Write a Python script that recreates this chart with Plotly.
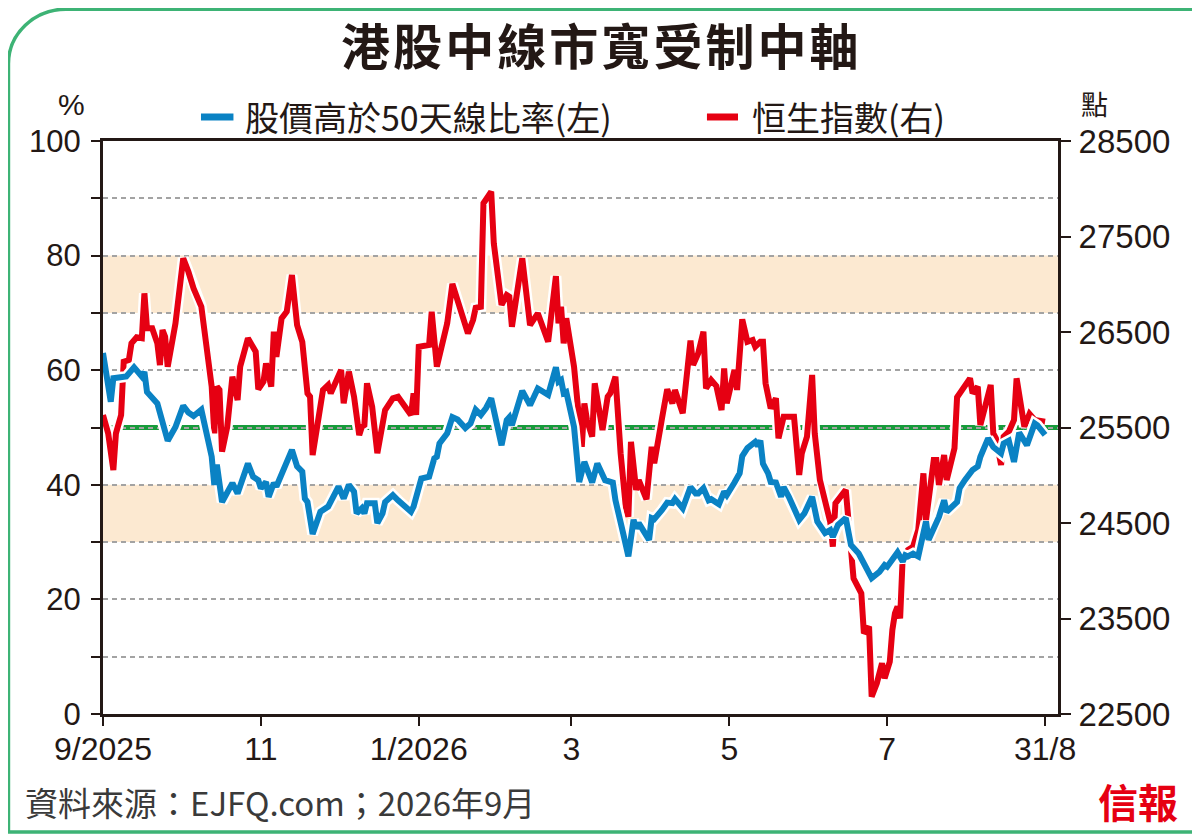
import plotly.graph_objects as go

# ---------------------------------------------------------------------------
# data
# ---------------------------------------------------------------------------
breadth_dates = [
    "2025-09-01", "2025-09-04", "2025-09-05", "2025-09-09", "2025-09-10", "2025-09-13",
    "2025-09-16", "2025-09-17", "2025-09-18", "2025-09-22", "2025-09-26", "2025-09-29",
    "2025-10-01", "2025-10-02", "2025-10-04", "2025-10-06", "2025-10-09", "2025-10-11",
    "2025-10-13", "2025-10-14", "2025-10-15", "2025-10-17", "2025-10-21", "2025-10-23",
    "2025-10-27", "2025-10-29", "2025-10-31", "2025-11-01", "2025-11-03", "2025-11-04",
    "2025-11-06", "2025-11-07", "2025-11-10", "2025-11-11", "2025-11-13", "2025-11-15",
    "2025-11-17", "2025-11-18", "2025-11-19", "2025-11-21", "2025-11-24", "2025-11-27",
    "2025-12-01", "2025-12-03", "2025-12-05", "2025-12-07", "2025-12-08", "2025-12-10",
    "2025-12-11", "2025-12-12", "2025-12-15", "2025-12-16", "2025-12-18", "2025-12-19",
    "2025-12-22", "2025-12-24", "2025-12-29", "2025-12-30", "2026-01-02", "2026-01-05",
    "2026-01-07", "2026-01-08", "2026-01-09", "2026-01-12", "2026-01-14", "2026-01-16",
    "2026-01-19", "2026-01-21", "2026-01-23", "2026-01-25", "2026-01-27", "2026-01-29",
    "2026-01-31", "2026-02-02", "2026-02-04", "2026-02-05", "2026-02-06", "2026-02-10",
    "2026-02-13", "2026-02-16", "2026-02-20", "2026-02-23", "2026-02-24", "2026-02-25",
    "2026-02-26", "2026-02-27", "2026-03-02", "2026-03-04", "2026-03-06", "2026-03-09",
    "2026-03-11", "2026-03-13", "2026-03-14", "2026-03-17", "2026-03-18", "2026-03-21",
    "2026-03-23", "2026-03-25", "2026-03-26", "2026-03-27", "2026-03-31", "2026-04-01",
    "2026-04-02", "2026-04-05", "2026-04-07", "2026-04-09", "2026-04-10", "2026-04-13",
    "2026-04-14", "2026-04-16", "2026-04-18", "2026-04-19", "2026-04-21", "2026-04-23",
    "2026-04-24", "2026-04-27", "2026-04-29", "2026-04-30", "2026-05-03", "2026-05-05",
    "2026-05-06", "2026-05-08", "2026-05-11", "2026-05-12", "2026-05-13", "2026-05-14",
    "2026-05-16", "2026-05-17", "2026-05-19", "2026-05-21", "2026-05-22", "2026-05-24",
    "2026-05-28", "2026-05-30", "2026-06-02", "2026-06-04", "2026-06-07", "2026-06-09",
    "2026-06-10", "2026-06-12", "2026-06-15", "2026-06-17", "2026-06-20", "2026-06-22",
    "2026-06-25", "2026-06-28", "2026-06-30", "2026-07-01", "2026-07-03", "2026-07-05",
    "2026-07-07", "2026-07-08", "2026-07-09", "2026-07-11", "2026-07-13", "2026-07-16",
    "2026-07-17", "2026-07-21", "2026-07-23", "2026-07-24", "2026-07-28", "2026-07-29",
    "2026-07-31", "2026-08-03", "2026-08-05", "2026-08-06", "2026-08-09", "2026-08-11",
    "2026-08-14", "2026-08-15", "2026-08-17", "2026-08-19", "2026-08-21", "2026-08-24",
    "2026-08-27", "2026-08-28", "2026-08-31",
]
breadth_pct = [
    63.0, 54.5, 58.6, 59.0, 58.9, 60.5,
    58.9, 59.7, 56.2, 54.2, 47.7, 50.1,
    52.8, 53.8, 52.6, 52.0, 53.1, 49.0,
    44.9, 40.0, 43.5, 37.0, 40.3, 38.5,
    43.7, 41.4, 40.8, 39.4, 40.5, 37.9,
    40.3, 39.7, 43.2, 43.7, 46.1, 43.2,
    42.3, 37.6, 37.0, 31.4, 35.3, 36.2,
    39.7, 37.6, 40.0, 38.8, 35.0, 35.9,
    35.0, 36.8, 36.8, 33.3, 35.0, 37.0,
    38.2, 37.3, 35.3, 36.2, 41.1, 41.4,
    44.6, 44.9, 47.2, 49.0, 51.8, 51.4,
    49.9, 50.7, 53.1, 52.2, 53.4, 55.1,
    50.7, 46.9, 51.3, 51.8, 50.4, 56.4,
    53.9, 56.8, 55.7, 60.5, 58.0, 58.3,
    56.0, 56.2, 50.1, 40.5, 44.0, 40.4,
    43.7, 41.7, 40.8, 40.4, 37.3, 31.5,
    27.5, 33.9, 32.4, 33.3, 30.4, 34.2,
    34.0, 35.6, 36.9, 36.8, 37.5, 35.9,
    37.3, 39.6, 38.5, 38.5, 39.4, 37.3,
    37.5, 36.6, 38.8, 38.2, 40.4, 42.0,
    45.0, 46.4, 47.5, 46.8, 47.7, 43.7,
    42.0, 40.5, 40.4, 37.9, 39.6, 37.9,
    33.9, 35.0, 37.9, 33.6, 31.6, 32.1,
    30.9, 33.0, 34.2, 29.5, 28.0, 26.3,
    23.7, 24.8, 26.0, 25.7, 27.2, 28.2,
    26.6, 27.7, 27.5, 28.0, 27.5, 33.6,
    30.4, 34.4, 37.3, 35.3, 37.0, 39.4,
    40.8, 42.6, 43.2, 44.9, 48.1, 46.6,
    45.5, 47.2, 47.7, 44.0, 49.1, 46.9,
    50.7, 50.4, 48.7,
]

hsi_dates = [
    "2025-09-01", "2025-09-03", "2025-09-05", "2025-09-06", "2025-09-08", "2025-09-09",
    "2025-09-11", "2025-09-12", "2025-09-14", "2025-09-16", "2025-09-17", "2025-09-18",
    "2025-09-20", "2025-09-22", "2025-09-23", "2025-09-24", "2025-09-25", "2025-09-26",
    "2025-09-29", "2025-10-02", "2025-10-04", "2025-10-06", "2025-10-09", "2025-10-10",
    "2025-10-11", "2025-10-13", "2025-10-14", "2025-10-15", "2025-10-16", "2025-10-17",
    "2025-10-19", "2025-10-21", "2025-10-23", "2025-10-24", "2025-10-27", "2025-10-29",
    "2025-10-30", "2025-10-31", "2025-11-02", "2025-11-03", "2025-11-05", "2025-11-06",
    "2025-11-07", "2025-11-09", "2025-11-11", "2025-11-13", "2025-11-15", "2025-11-17",
    "2025-11-19", "2025-11-20", "2025-11-21", "2025-11-25", "2025-11-27", "2025-11-28",
    "2025-12-02", "2025-12-03", "2025-12-05", "2025-12-07", "2025-12-09", "2025-12-10",
    "2025-12-11", "2025-12-12", "2025-12-14", "2025-12-16", "2025-12-18", "2025-12-19",
    "2025-12-22", "2025-12-24", "2025-12-29", "2025-12-30", "2025-12-31", "2026-01-01",
    "2026-01-05", "2026-01-06", "2026-01-08", "2026-01-12", "2026-01-14", "2026-01-17",
    "2026-01-20", "2026-01-22", "2026-01-23", "2026-01-25", "2026-01-26", "2026-01-29",
    "2026-01-30", "2026-02-02", "2026-02-04", "2026-02-05", "2026-02-06", "2026-02-10",
    "2026-02-13", "2026-02-16", "2026-02-20", "2026-02-23", "2026-02-24", "2026-02-25",
    "2026-02-26", "2026-02-27", "2026-03-02", "2026-03-05", "2026-03-06", "2026-03-07",
    "2026-03-09", "2026-03-10", "2026-03-13", "2026-03-15", "2026-03-16", "2026-03-18",
    "2026-03-20", "2026-03-22", "2026-03-23", "2026-03-24", "2026-03-26", "2026-03-27",
    "2026-03-30", "2026-04-01", "2026-04-02", "2026-04-05", "2026-04-07", "2026-04-09",
    "2026-04-10", "2026-04-13", "2026-04-14", "2026-04-16", "2026-04-17", "2026-04-19",
    "2026-04-21", "2026-04-22", "2026-04-24", "2026-04-26", "2026-04-28", "2026-04-29",
    "2026-04-30", "2026-05-03", "2026-05-04", "2026-05-06", "2026-05-08", "2026-05-10",
    "2026-05-11", "2026-05-13", "2026-05-14", "2026-05-15", "2026-05-17", "2026-05-19",
    "2026-05-20", "2026-05-22", "2026-05-26", "2026-05-28", "2026-05-29", "2026-05-31",
    "2026-06-02", "2026-06-03", "2026-06-05", "2026-06-07", "2026-06-09", "2026-06-10",
    "2026-06-11", "2026-06-15", "2026-06-17", "2026-06-18", "2026-06-21", "2026-06-22",
    "2026-06-24", "2026-06-25", "2026-06-27", "2026-06-29", "2026-06-30", "2026-07-02",
    "2026-07-03", "2026-07-04", "2026-07-05", "2026-07-06", "2026-07-07", "2026-07-09",
    "2026-07-11", "2026-07-13", "2026-07-15", "2026-07-16", "2026-07-19", "2026-07-20",
    "2026-07-21", "2026-07-23", "2026-07-24", "2026-07-27", "2026-07-28", "2026-07-30",
    "2026-08-02", "2026-08-03", "2026-08-05", "2026-08-06", "2026-08-08", "2026-08-10",
    "2026-08-11", "2026-08-12", "2026-08-14", "2026-08-15", "2026-08-17", "2026-08-19",
    "2026-08-20", "2026-08-23", "2026-08-25", "2026-08-27", "2026-08-31",
]
hsi_points = [
    25631, 25439, 25055, 25439, 25631, 26189,
    26207, 26381, 26444, 26434, 26905, 26539,
    26539, 26381, 26154, 26521, 26451, 26137,
    26591, 27272, 27131, 26957, 26765, 26555,
    26241, 25927, 25439, 25927, 25893, 25247,
    25508, 26032, 25788, 26137, 26434, 26346,
    26294, 25900, 25980, 26172, 25927, 26503,
    26241, 26643, 26713, 27097, 26573, 26398,
    25858, 25823, 25212, 25893, 25945, 25858,
    26102, 25753, 26084, 25823, 25421, 25508,
    25526, 25963, 25718, 25230, 25492, 25683,
    25806, 25823, 25631, 25858, 25631, 26346,
    26364, 26713, 26137, 26591, 27003, 26748,
    26486, 26626, 26754, 26765, 27848, 27969,
    27429, 26783, 26887, 26870, 26555, 27272,
    26573, 26696, 26398, 27086, 26591, 26765,
    26381, 26643, 26137, 25299, 25753, 25578,
    25404, 25963, 25474, 25823, 25858, 26032,
    25230, 24671, 24566, 25351, 24846, 24950,
    24748, 25299, 25125, 25596, 25900, 25753,
    25893, 25649, 25934, 26409, 26154, 26277,
    26503, 25910, 25997, 25934, 25683, 26119,
    25753, 26102, 25893, 26633, 26398, 26416,
    26346, 26398, 26398, 25963, 25701, 25806,
    25387, 25613, 25613, 25003, 25230, 25404,
    26050, 25439, 24950, 24706, 24510, 24252,
    24706, 24846, 24217, 23921, 23764, 23345,
    23414, 22681, 22821, 23031, 22874, 23048,
    23380, 23554, 23624, 23502, 24147, 24217,
    24252, 24427, 25020, 24531, 25160, 25160,
    24898, 25212, 24950, 25282, 25816, 25893,
    26015, 25858, 25927, 25526, 25753, 25945,
    25439, 25387, 25107, 25404, 25456, 25578,
    26015, 25508, 25641, 25578, 25560,
]

pct_ticks = [0, 10, 20, 30, 40, 50, 60, 70, 80, 90, 100]
pct_labels = ["0", "", "20", "", "40", "", "60", "", "80", "", "100"]
hsi_ticks = [22500, 23500, 24500, 25500, 26500, 27500, 28500]
month_ticks = ["2025-09-01", "2025-11-01", "2026-01-01", "2026-03-01",
               "2026-05-01", "2026-07-01", "2026-08-31"]
month_labels = ["9/2025", "11", "1/2026", "3", "5", "7", "31/8"]
bands = [(70, 80), (30, 40)]
midline = 50

BLUE = "#0a82c4"
RED = "#e60012"
GREEN = "#179b3b"
INK = "#231815"
NUM_FONT = "Liberation Sans, Arial, sans-serif"
CJK_FONT = "Noto Sans CJK TC, Noto Sans CJK SC, sans-serif"

fig = go.Figure()

# HSI on the primary axis (right side), breadth on the overlaying axis so
# the blue line sits on top of the red one
fig.add_trace(go.Scatter(x=hsi_dates, y=hsi_points, yaxis="y", mode="lines",
                         line=dict(color="white", width=11), hoverinfo="skip",
                         showlegend=False))
fig.add_trace(go.Scatter(x=hsi_dates, y=hsi_points, yaxis="y", mode="lines",
                         line=dict(color=RED, width=6), name="恒生指數(右)",
                         showlegend=False))
fig.add_trace(go.Scatter(x=breadth_dates, y=breadth_pct, yaxis="y2", mode="lines",
                         line=dict(color="white", width=11), hoverinfo="skip",
                         showlegend=False))
fig.add_trace(go.Scatter(x=breadth_dates, y=breadth_pct, yaxis="y2", mode="lines",
                         line=dict(color=BLUE, width=6), name="股價高於50天線比率(左)",
                         showlegend=False))

shapes = []
for lo, hi in bands:
    shapes.append(dict(type="rect", xref="paper", yref="y2", x0=0, x1=1, y0=lo, y1=hi,
                       fillcolor="#fce9d1", line=dict(width=0), layer="below"))
shapes.append(dict(type="line", xref="paper", yref="y2", x0=0, x1=1, y0=midline,
                   y1=midline, line=dict(color=GREEN, width=5), layer="between"))

# legend keys (short strokes)
shapes.append(dict(type="line", xref="paper", yref="paper", x0=0.1026, x1=0.1366,
                   y0=1.0419, y1=1.0419, line=dict(color=BLUE, width=7)))
shapes.append(dict(type="line", xref="paper", yref="paper", x0=0.6324, x1=0.6649,
                   y0=1.0419, y1=1.0419, line=dict(color=RED, width=7)))

# green frame with rounded top-left corner
L, R, T, B = -0.0990, 1.1445, 1.2300, -0.2060
rx, ry = 0.060, 0.095
frame = (f"M {L},{B} L {L},{T - ry} C {L},{T - ry * 0.45} {L + rx * 0.45},{T} "
         f"{L + rx},{T} L {R},{T} L {R},{B} Z")
shapes.append(dict(type="path", xref="paper", yref="paper", path=frame,
                   line=dict(color="#3db375", width=3.5), fillcolor="rgba(0,0,0,0)"))

title_text = "\u200a".join("港股中線市寬受制中軸")

annotations = [
    dict(text=f"<b>{title_text}</b>", x=0.5204, y=1.1702, xref="paper", yref="paper",
         showarrow=False, xanchor="center", yanchor="middle",
         font=dict(family=CJK_FONT, size=49, color=INK)),
    dict(text="股價高於50天線比率(左)", x=0.1466, y=1.0419, xref="paper", yref="paper",
         showarrow=False, xanchor="left", yanchor="middle",
         font=dict(family=CJK_FONT, size=34, color=INK)),
    dict(text="恒生指數(右)", x=0.6775, y=1.0419, xref="paper", yref="paper",
         showarrow=False, xanchor="left", yanchor="middle",
         font=dict(family=CJK_FONT, size=34, color=INK)),
    dict(text="%", x=-0.0335, y=1.0630, xref="paper", yref="paper", showarrow=False,
         xanchor="center", yanchor="middle", font=dict(family=NUM_FONT, size=30, color=INK)),
    dict(text="點", x=1.0377, y=1.0660, xref="paper", yref="paper", showarrow=False,
         xanchor="center", yanchor="middle", font=dict(family=CJK_FONT, size=27, color=INK)),
    dict(text="資料來源：EJFQ.com；2026年9月", x=-0.0838, y=-0.1536, xref="paper",
         yref="paper", showarrow=False, xanchor="left", yanchor="middle",
         font=dict(family=CJK_FONT, size=33, color="#3a3a3a")),
    dict(text="<b>信報</b>", x=1.0838, y=-0.1518, xref="paper", yref="paper",
         showarrow=False, xanchor="center", yanchor="middle",
         font=dict(family=CJK_FONT, size=40, color=RED)),
]

# the page adds an 8px body margin, so the figure is 8px smaller and the
# left/top margins are 8px less than the reference pixel positions
fig.update_layout(
    width=1192, height=829,
    margin=dict(l=95, r=142, t=133, b=123, autoexpand=False),
    paper_bgcolor="white", plot_bgcolor="white",
    showlegend=False,
    shapes=shapes, annotations=annotations,
    xaxis=dict(
        type="date", range=["2025-09-01", "2026-09-05"],
        tickvals=month_ticks, ticktext=month_labels,
        ticks="outside", ticklen=9, tickwidth=2, tickcolor=INK,
        showline=True, linecolor=INK, linewidth=3, mirror=True,
        showgrid=False, zeroline=False, ticklabelstandoff=-4,
        tickfont=dict(family=NUM_FONT, size=32, color=INK),
    ),
    yaxis=dict(
        range=[22500, 28500], side="right",
        tickvals=hsi_ticks, ticktext=[str(v) for v in hsi_ticks],
        ticks="outside", ticklen=10, tickwidth=2, tickcolor=INK,
        showline=True, linecolor=INK, linewidth=3,
        showgrid=False, zeroline=False, ticklabelstandoff=1,
        tickfont=dict(family=NUM_FONT, size=33, color=INK),
    ),
    yaxis2=dict(
        range=[0, 100], side="left", overlaying="y",
        tickvals=pct_ticks, ticktext=pct_labels,
        ticks="outside", ticklen=9, tickwidth=2, tickcolor=INK,
        showline=True, linecolor=INK, linewidth=3,
        showgrid=True, gridcolor="#a3a3a3", gridwidth=1.5, griddash="5px,4px",
        zeroline=False, ticklabelstandoff=4,
        tickfont=dict(family=NUM_FONT, size=31, color=INK),
    ),
)

fig.write_html("out.html")
